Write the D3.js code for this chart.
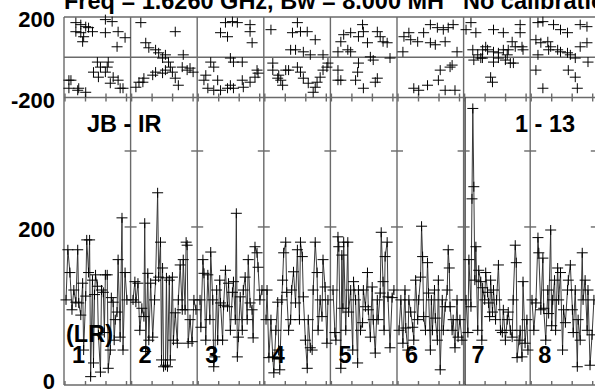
<!DOCTYPE html>
<html><head><meta charset="utf-8">
<script src="https://cdn.jsdelivr.net/npm/d3@7"></script>
<style>html,body{margin:0;padding:0;background:#fff;overflow:hidden}</style>
</head><body>
<svg id="c" width="595" height="389"></svg>
<script>
// ---------- data ----------
const titleText = "Freq = 1.6260 GHz, Bw = 8.000 MH";
const titleText2 = "No calibration";
const baselineLabel = "JB - IR";
const channelLabel = "1 - 13";
const stokesLabel = "(LR)";
const panelLabels = ["1","2","3","4","5","6","7","8"];
const phaseTickLabels = [200, -200];
const ampTickLabels = [200, 0];
const ampDividerTicks = [200, 300];
const timeTicks = [0, 1, 2, 3];

// phase points per panel: [time, phase(deg)]
const phase1 = [[0.19,-114],[0.19,-154],[0.29,-114],[0.53,172],[0.53,127],[0.62,-164],[0.67,-154],[0.77,162],[0.77,122],[0.86,77],[0.91,102],[1.01,152],[1.01,-174],[1.15,147],[1.34,127],[1.39,-74],[1.58,-24],[1.63,-99],[1.73,-49],[1.97,187],[1.97,122],[1.97,-74],[2.06,-49],[2.11,-24],[2.21,-129],[2.30,177],[2.35,-99],[2.54,52],[2.59,127],[2.59,-114],[2.69,-154],[2.83,-154],[2.93,97]];
const phase2 = [[0.21,-149],[0.36,-124],[0.45,172],[0.55,-124],[0.60,-104],[0.69,72],[0.84,47],[1.03,-89],[1.17,37],[1.17,-74],[1.32,22],[1.51,-4],[1.51,-79],[1.65,12],[1.65,-64],[1.80,-24],[1.89,-49],[1.99,-74],[2.13,127],[2.13,-104],[2.28,-139],[2.47,-49],[2.52,12],[2.71,-64],[2.85,-54],[3.00,-74]];
const phase3 = [[0.28,-114],[0.37,-89],[0.47,-154],[0.61,-24],[0.76,-49],[0.76,-164],[0.95,-114],[1.09,122],[1.09,-164],[1.33,172],[1.43,102],[1.43,-154],[1.57,-4],[1.57,-139],[1.67,177],[1.72,-24],[1.72,-154],[1.91,172],[2.15,-24],[2.15,-114],[2.20,-149],[2.53,162],[2.53,127],[2.53,-124],[2.63,72],[2.77,-99],[2.87,-64],[2.92,-79]];
const phase4 = [[0.30,137],[0.39,-29],[0.39,-64],[0.63,-104],[0.68,-89],[0.78,-114],[0.87,-139],[1.02,-64],[1.16,-64],[1.26,37],[1.35,122],[1.50,37],[1.59,172],[1.59,-49],[1.74,127],[1.74,-74],[1.88,27],[1.88,-104],[2.07,127],[2.12,-129],[2.22,12],[2.36,-174],[2.46,87],[2.46,-149],[2.55,-124],[2.70,-99],[2.84,12],[2.84,-64],[3.03,-49],[3.08,-29]];
const phase5 = [[0.32,27],[0.32,-64],[0.32,-114],[0.46,77],[0.46,-114],[0.60,112],[0.80,37],[0.94,122],[0.94,27],[1.18,-114],[1.28,-74],[1.32,102],[1.32,-29],[1.52,162],[1.56,127],[1.56,-154],[1.76,72],[1.90,2],[2.04,-14],[2.14,-124],[2.24,127],[2.24,-104],[2.38,102],[2.52,77],[2.72,72],[2.86,-4]];
const phase6 = [[0.24,27],[0.29,102],[0.53,122],[0.62,87],[0.77,-154],[0.96,77],[1.01,-164],[1.25,122],[1.44,-139],[1.58,162],[1.58,72],[1.82,62],[1.92,147],[1.97,-114],[2.06,-64],[2.21,137],[2.30,77],[2.30,-164],[2.45,147],[2.54,-49],[2.64,-39],[2.69,162],[2.78,-164],[2.88,27]];
const phase7 = [[0.07,137],[0.31,172],[0.40,37],[0.45,-14],[0.55,122],[0.64,12],[0.79,-4],[0.87,-4],[0.88,37],[1.03,52],[1.12,37],[1.27,-99],[1.36,-124],[1.41,137],[1.41,27],[1.41,-24],[1.65,22],[1.65,-4],[1.89,122],[1.89,37],[1.99,-14],[2.08,12],[2.13,37],[2.23,-29],[2.32,77],[2.38,-29],[2.47,52],[2.71,162],[2.71,122],[2.80,52],[2.85,37]];
const phase8 = [[0.23,87],[0.23,-64],[0.33,172],[0.33,12],[0.47,72],[0.57,177],[0.57,-154],[0.81,77],[0.85,37],[0.95,52],[1.09,162],[1.29,37],[1.43,137],[1.43,27],[1.77,122],[1.77,22],[1.81,-64],[1.91,12],[2.15,-4],[2.15,-99],[2.25,-154],[2.39,162],[2.39,52],[2.72,152],[2.72,72],[2.77,-24]];

// amplitude points per panel: [time, amplitude]
const amp1 = [[0.05,104],[0.14,170],[0.24,140],[0.34,91],[0.43,117],[0.53,101],[0.62,170],[0.67,100],[0.77,84],[0.86,126],[0.91,38],[1.01,109],[1.06,183],[1.15,140],[1.20,183],[1.25,3],[1.34,130],[1.39,21],[1.44,111],[1.49,137],[1.58,122],[1.63,58],[1.73,9],[1.78,117],[1.87,114],[1.92,61],[1.97,137],[2.06,137],[2.11,14],[2.21,38],[2.26,107],[2.35,101],[2.40,51],[2.45,78],[2.54,88],[2.59,157],[2.69,55],[2.78,212],[2.83,38],[2.93,140],[3.02,104]];
const amp2 = [[0.07,104],[0.16,128],[0.21,101],[0.31,126],[0.40,64],[0.50,93],[0.60,82],[0.64,205],[0.69,36],[0.79,139],[0.84,51],[0.93,126],[1.03,55],[1.12,104],[1.17,130],[1.27,245],[1.32,134],[1.41,180],[1.46,25],[1.51,146],[1.56,16],[1.65,18],[1.70,133],[1.75,16],[1.84,130],[1.89,25],[1.99,134],[2.04,51],[2.13,87],[2.23,47],[2.28,104],[2.37,150],[2.47,91],[2.52,157],[2.61,91],[2.66,180],[2.71,176],[2.76,47],[2.85,78],[2.95,49],[3.04,104],[3.14,91]];
const amp3 = [[0.09,104],[0.13,68],[0.23,157],[0.28,139],[0.37,51],[0.47,137],[0.57,78],[0.61,167],[0.71,104],[0.76,16],[0.81,29],[0.90,117],[0.95,51],[1.05,130],[1.09,100],[1.19,51],[1.24,97],[1.33,143],[1.43,95],[1.48,126],[1.57,64],[1.67,114],[1.72,128],[1.81,78],[1.86,218],[1.91,29],[1.96,55],[2.05,108],[2.15,64],[2.20,117],[2.29,134],[2.39,78],[2.44,157],[2.53,100],[2.63,91],[2.68,54],[2.77,174],[2.87,166],[2.92,147],[3.01,104],[3.11,117]];
const amp4 = [[0.06,78],[0.11,117],[0.20,28],[0.30,78],[0.39,29],[0.44,8],[0.54,64],[0.63,101],[0.68,38],[0.73,12],[0.83,104],[0.87,130],[0.92,166],[1.02,180],[1.07,114],[1.16,64],[1.26,78],[1.31,117],[1.40,141],[1.50,100],[1.59,170],[1.69,78],[1.74,180],[1.83,161],[1.88,108],[1.98,51],[2.07,14],[2.12,78],[2.22,41],[2.31,38],[2.36,117],[2.46,180],[2.55,140],[2.60,64],[2.70,104],[2.79,82],[2.84,157],[2.94,121],[3.03,47],[3.08,104]];
const amp5 = [[0.08,117],[0.17,61],[0.22,51],[0.32,187],[0.36,174],[0.46,14],[0.51,163],[0.56,93],[0.60,180],[0.70,64],[0.80,180],[0.84,88],[0.94,117],[1.04,38],[1.08,128],[1.18,104],[1.28,21],[1.32,117],[1.42,64],[1.52,74],[1.56,117],[1.66,95],[1.76,140],[1.80,91],[1.90,55],[1.99,121],[2.04,78],[2.14,34],[2.24,104],[2.28,78],[2.38,113],[2.43,193],[2.52,128],[2.57,64],[2.62,161],[2.72,180],[2.76,108],[2.86,41],[2.96,107],[3.05,117]];
const amp6 = [[0.05,64],[0.14,104],[0.24,47],[0.34,117],[0.38,67],[0.48,38],[0.53,104],[0.62,88],[0.72,68],[0.77,51],[0.86,130],[0.96,78],[1.01,104],[1.10,134],[1.15,201],[1.20,161],[1.25,82],[1.34,64],[1.44,153],[1.49,113],[1.58,38],[1.63,104],[1.68,64],[1.78,117],[1.82,80],[1.92,51],[1.97,130],[2.06,12],[2.16,104],[2.21,64],[2.30,95],[2.40,117],[2.45,170],[2.50,146],[2.54,95],[2.64,64],[2.69,78],[2.78,41],[2.88,104],[2.93,55],[3.02,78],[3.12,51]];
const amp7 = [[0.07,104],[0.16,61],[0.21,157],[0.31,95],[0.36,237],[0.40,356],[0.45,253],[0.50,130],[0.55,174],[0.64,64],[0.69,143],[0.79,128],[0.84,51],[0.88,120],[0.98,104],[1.03,140],[1.12,114],[1.17,100],[1.22,82],[1.27,130],[1.36,88],[1.41,117],[1.51,78],[1.56,104],[1.65,150],[1.75,64],[1.84,61],[1.89,91],[1.99,51],[2.08,78],[2.13,88],[2.23,64],[2.32,55],[2.37,104],[2.47,176],[2.52,153],[2.56,28],[2.66,51],[2.71,64],[2.80,29],[2.85,128],[2.95,47],[3.04,78],[3.09,38]];
const amp8 = [[0.04,104],[0.13,64],[0.23,100],[0.33,186],[0.37,166],[0.47,91],[0.57,159],[0.61,93],[0.71,51],[0.81,117],[0.85,86],[0.95,196],[1.00,70],[1.05,104],[1.14,130],[1.19,64],[1.29,146],[1.34,104],[1.43,140],[1.53,38],[1.58,91],[1.67,74],[1.77,117],[1.81,130],[1.91,150],[2.01,91],[2.05,61],[2.15,117],[2.25,16],[2.29,78],[2.39,51],[2.49,166],[2.53,104],[2.63,130],[2.73,64],[2.77,117],[2.87,18],[2.97,58],[3.06,104]];

const phaseSeries = [phase1, phase2, phase3, phase4, phase5, phase6, phase7, phase8];
const ampSeries = [amp1, amp2, amp3, amp4, amp5, amp6, amp7, amp8];

// ---------- layout ----------
const left = 64, panelW = 66.6, nPanels = panelLabels.length;
const phaseTop = 17, phaseBot = 97.5, ampBot = 385;
const rightEdge = left + nPanels * panelW;
const frameColor = "#6a6a6a";
const fontFam = "'Liberation Sans', Arial, Helvetica, sans-serif";

const svg = d3.select("#c");
const yPh = d3.scaleLinear().domain([-200, 200]).range([phaseBot, phaseTop]);
const yAmp = d3.scaleLinear().domain([-8, 370.4]).range([ampBot, phaseBot]);
const xPanel = i => d3.scaleLinear().domain([0, 3.2]).range([left + i * panelW + 1, left + (i + 1) * panelW]);

const frame = svg.append("g").attr("stroke", frameColor).attr("stroke-width", 1.4).attr("fill", "none");
[phaseTop, phaseBot, ampBot].forEach(y => frame.append("line").attr("x1", left).attr("x2", rightEdge).attr("y1", y).attr("y2", y));
frame.append("line").attr("x1", left).attr("x2", rightEdge).attr("y1", yPh(0)).attr("y2", yPh(0));
frame.append("line").attr("x1", left).attr("x2", left).attr("y1", phaseTop).attr("y2", ampBot);
for (let i = 1; i <= nPanels; i++) {
  const x = left + i * panelW;
  frame.append("line").attr("x1", x).attr("x2", x).attr("y1", phaseTop).attr("y2", ampBot);
  if (i === 6) {
    frame.append("line").attr("x1", x + 1.5).attr("x2", x + 1.5).attr("y1", phaseBot).attr("y2", ampBot)
      .attr("stroke", "#000").attr("stroke-width", 1);
  }
  ampDividerTicks.forEach(v => frame.append("line").attr("x1", x - 6).attr("x2", x + 6).attr("y1", yAmp(v)).attr("y2", yAmp(v)));
}
for (let i = 0; i < nPanels; i++) {
  const xs = xPanel(i);
  timeTicks.forEach(t => {
    const x = xs(t);
    frame.append("line").attr("x1", x).attr("x2", x).attr("y1", ampBot).attr("y2", ampBot - 4);
    frame.append("line").attr("x1", x).attr("x2", x).attr("y1", phaseBot - 4).attr("y2", phaseBot + 4);
  });
}

// ---------- data marks ----------
const crossPath = "M-5.5,0H5.5M0,-5V5";
const dataG = svg.append("g");
for (let i = 0; i < nPanels; i++) {
  const xs = xPanel(i);
  dataG.append("path").datum(ampSeries[i])
    .attr("fill", "none").attr("stroke", "#2e2e2e").attr("stroke-width", 0.95)
    .attr("d", d3.line().x(d => xs(d[0])).y(d => yAmp(d[1])));
  dataG.append("g").selectAll("path").data(ampSeries[i]).join("path")
    .attr("d", crossPath).attr("stroke", "#000").attr("stroke-width", 1).attr("fill", "none")
    .attr("transform", d => `translate(${xs(d[0])},${yAmp(d[1])})`);
  dataG.append("g").selectAll("path").data(phaseSeries[i]).join("path")
    .attr("d", crossPath).attr("stroke", "#000").attr("stroke-width", 1).attr("fill", "none")
    .attr("transform", d => `translate(${xs(d[0])},${yPh(d[1])})`);
}

// ---------- text ----------
const txt = svg.append("g").attr("font-family", fontFam).attr("font-weight", "bold").attr("fill", "#000");
txt.append("text").attr("x", 64).attr("y", 9).attr("font-size", 23.5).text(titleText);
txt.append("text").attr("x", 463).attr("y", 9).attr("font-size", 23.5).text(titleText2);
phaseTickLabels.forEach(v => txt.append("text").attr("x", 55).attr("y", yPh(v) + 10).attr("text-anchor", "end").attr("font-size", 22).text(v));
ampTickLabels.forEach(v => txt.append("text").attr("x", 55).attr("y", yAmp(v) + 10).attr("text-anchor", "end").attr("font-size", 22).text(v));
txt.append("text").attr("x", 87).attr("y", 132).attr("font-size", 23.5).text(baselineLabel);
txt.append("text").attr("x", 515).attr("y", 132).attr("font-size", 23.5).text(channelLabel);
txt.append("text").attr("x", 66).attr("y", 342).attr("font-size", 23.5).text(stokesLabel);
panelLabels.forEach((l, i) => txt.append("text").attr("x", left + i * panelW + 8).attr("y", 363).attr("font-size", 23.5).text(l));
</script>
</body></html>
